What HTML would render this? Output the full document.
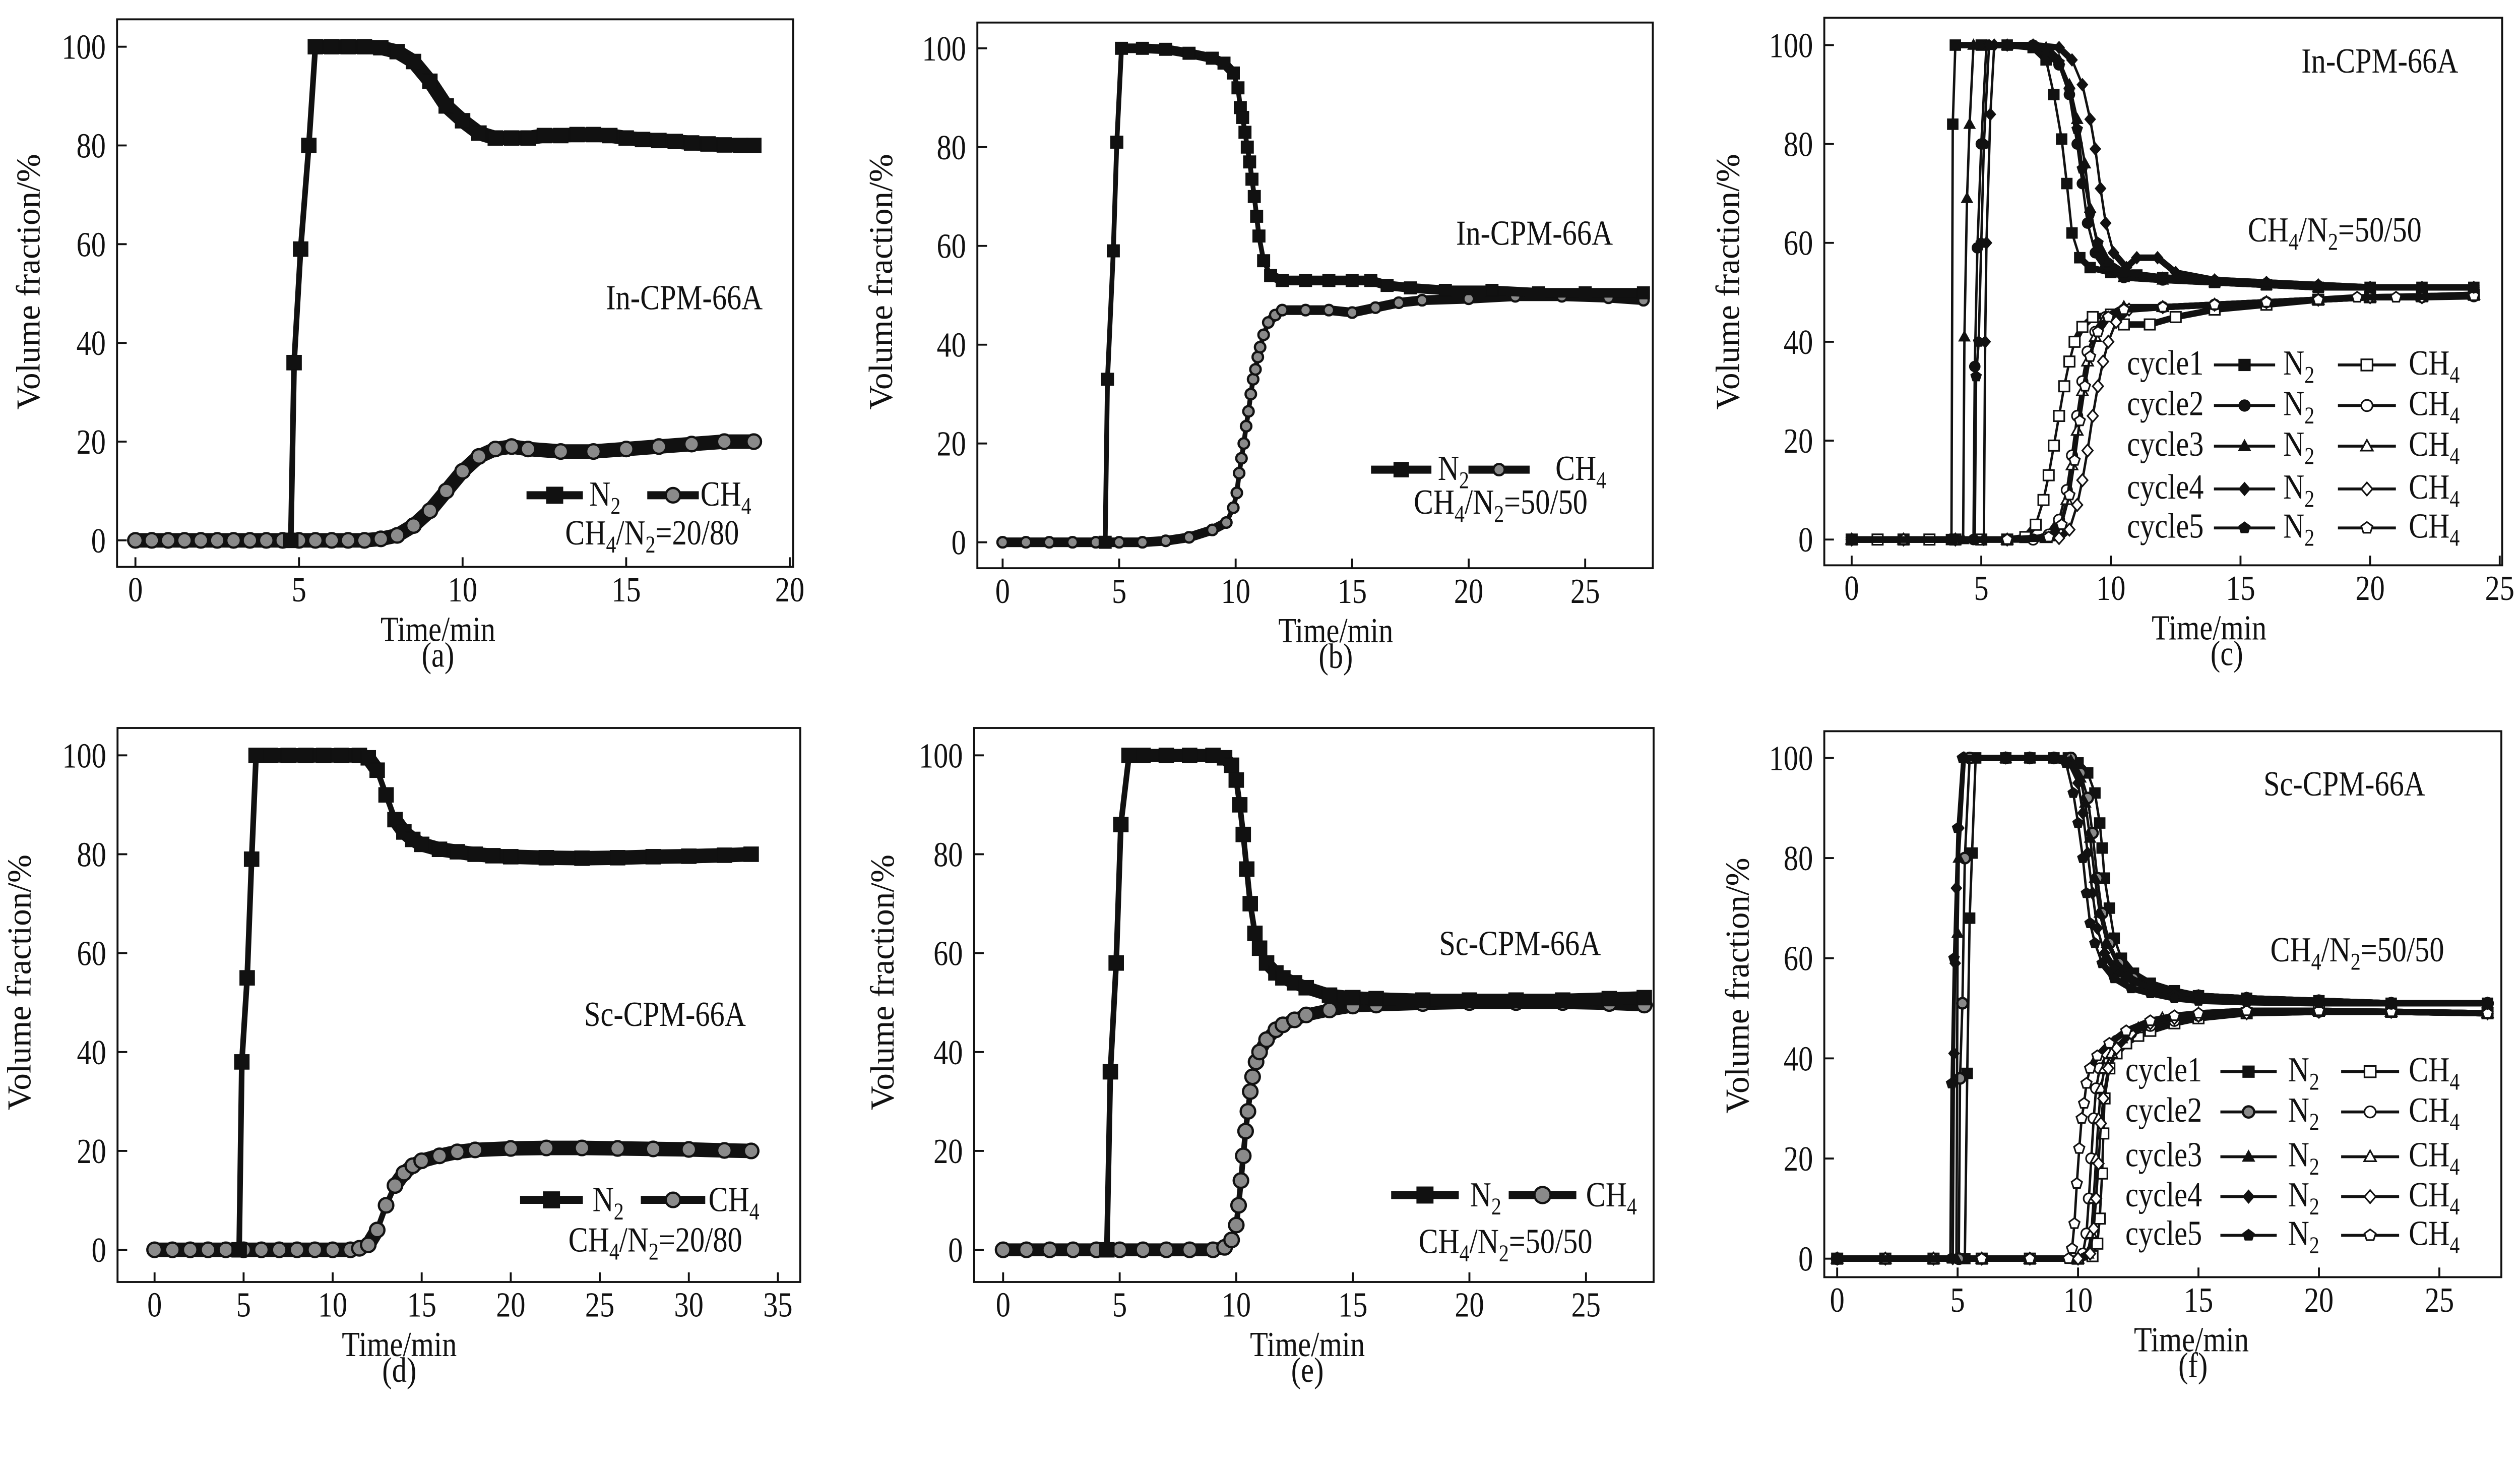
<!DOCTYPE html>
<html>
<head>
<meta charset="utf-8">
<style>
html,body{margin:0;padding:0;background:#fff;overflow:hidden;}
svg{display:block;}
text{font-family:"Liberation Serif","Times New Roman",serif;fill:#111;}
</style>
</head>
<body>
<svg id="fig" xmlns="http://www.w3.org/2000/svg" width="5201" height="2904" viewBox="0 0 1628 909">
<rect x="0" y="0" width="1628" height="909" fill="#fff"/>
</svg>
<script>
// ---------- data (time/min, volume fraction/%) ----------
const xTicksA = [0,5,10,15,20];
const xTicksB = [0,5,10,15,20,25];
const xTicksD = [0,5,10,15,20,25,30,35];
const yTicks = [0,20,40,60,80,100];

const aN2 = [[4.75,0],[4.85,36],[5.05,59],[5.3,80],[5.5,100],[6,100],[6.5,100],[7,100],[7.5,99.8],[8,99],[8.5,97],[9,93],[9.5,88],[10,85],[10.5,82.5],[11,81.5],[11.5,81.5],[12,81.5],[12.5,82],[13,82],[13.5,82.2],[14,82.2],[14.5,82],[15,81.5],[15.5,81.2],[16,81],[16.5,80.8],[17,80.5],[17.5,80.3],[18,80.1],[18.5,80],[18.9,80]];
const aCH4 = [[0,0],[0.5,0],[1,0],[1.5,0],[2,0],[2.5,0],[3,0],[3.5,0],[4,0],[4.5,0],[5,0],[5.5,0],[6,0],[6.5,0],[7,0],[7.5,0.3],[8,1],[8.5,3],[9,6],[9.5,10],[10,14],[10.5,17],[11,18.5],[11.5,19],[12,18.5],[13,18],[14,18],[15,18.5],[16,19],[17,19.5],[18,20],[18.9,20]];

const bN2 = [[4.4,0],[4.5,33],[4.75,59],[4.9,81],[5.1,100],[6,100],[7,99.8],[8,99],[9,98],[9.5,97],[9.9,95],[10.1,92],[10.2,88],[10.3,86],[10.4,83],[10.5,80],[10.6,77],[10.7,73.5],[10.8,70],[10.9,66],[11,62],[11.2,57],[11.5,54],[12,53],[13,53],[14,53],[15,53],[15.8,53],[16.5,52],[17.5,51.5],[19,51],[21,51],[23,50.5],[25,50.5],[27.5,50.5]];
const bCH4 = [[0,0],[1,0],[2,0],[3,0],[4,0],[5,0],[6,0],[7,0.3],[8,1],[9,2.5],[9.6,4],[9.9,7],[10.05,10],[10.15,14],[10.25,17],[10.35,20],[10.45,23.5],[10.55,26.5],[10.65,30],[10.75,33],[10.85,35],[10.95,37.5],[11.05,39.5],[11.2,42],[11.4,44.5],[11.7,46],[12,47],[13,47],[14,47],[15,46.5],[16,47.5],[17,48.5],[18,49],[20,49.3],[22,49.8],[24,49.8],[26,49.5],[27.5,49]];

const cN2c1 = [[0,0],[3.85,0],[3.9,84],[4.0,100],[5,100],[6,100],[7,99.5],[7.5,97],[7.8,90],[8.1,81],[8.3,72],[8.5,62],[8.8,57],[9.2,55],[10,54],[11,53.5],[12,53],[14,52],[16,51.5],[18,51],[20,51],[22,51],[24,51]];
const cN2c2 = [[0,0],[4.7,0],[4.75,35],[4.85,59],[5.0,80],[5.2,100],[6,100],[7,100],[7.5,99],[8,96],[8.4,90],[8.7,80],[8.9,72],[9.1,64],[9.4,58],[9.8,55],[10.5,53],[12,52.5],[14,52],[16,51.5],[18,51],[20,51],[22,51],[24,51]];
const cN2c3 = [[0,0],[4.3,0],[4.35,41],[4.45,69],[4.55,84],[4.7,100],[6,100],[7,100],[7.5,99.5],[8,97],[8.4,92],[8.7,85],[9.0,76],[9.2,67],[9.5,59],[9.9,55],[10.5,53],[12,52.5],[14,52],[16,51.5],[18,51],[20,51],[22,51],[24,51]];
const cN2c4 = [[0,0],[5.1,0],[5.15,40],[5.2,60],[5.35,86],[5.5,100],[6,100],[7,100],[8,99.5],[8.5,97],[8.9,92],[9.2,85],[9.4,79],[9.6,71],[9.8,64],[10.1,58],[10.6,55],[11,57],[11.8,57],[12.5,54],[14,52.5],[16,52],[18,51.5],[20,51],[22,51],[24,51]];
const cN2c5 = [[0,0],[4.75,0],[4.8,33],[4.9,40],[5.0,60],[5.1,80],[5.3,100],[6,100],[7,100],[7.5,99],[8,96.5],[8.4,91],[8.7,83],[8.9,75],[9.2,66],[9.5,60],[9.9,56],[10.5,54],[12,53],[14,52.5],[16,52],[18,51.5],[20,51],[22,51],[24,51]];
const cCH4c1 = [[0,0],[1,0],[2,0],[3,0],[4,0],[5,0],[6,0],[6.7,0.5],[7.1,3],[7.4,8],[7.6,13],[7.8,19],[8.0,25],[8.2,31],[8.4,36],[8.6,40],[8.9,43],[9.3,45],[10,45.5],[10.5,43.5],[11.5,43.5],[12.5,45],[14,46.5],[16,47.5],[18,48.5],[20,49],[22,49.2],[24,49.5]];
const cCH4c2 = [[0,0],[2,0],[4,0],[6,0],[7,0],[7.6,1],[8.0,4],[8.3,10],[8.5,17],[8.7,25],[8.9,32],[9.1,38],[9.4,42],[9.8,45],[10.5,46.5],[12,47],[14,47.5],[16,48],[18,48.5],[20,49],[22,49],[24,49.2]];
const cCH4c3 = [[0,0],[2,0],[4,0],[6,0],[7.5,0.3],[8.0,2],[8.3,8],[8.5,15],[8.7,22],[8.9,30],[9.1,36],[9.4,41],[9.8,45],[10.5,47],[12,47],[14,47.5],[16,48],[18,48.5],[20,49],[22,49.2],[24,49.5]];
const cCH4c4 = [[0,0],[2,0],[4,0],[6,0],[8,0.3],[8.4,2],[8.7,7],[8.9,12],[9.1,18],[9.3,25],[9.5,31],[9.7,36],[9.9,40],[10.2,44],[10.7,46.5],[12,47],[14,47.5],[16,48],[18,48.5],[20,49],[22,49],[24,49.5]];
const cCH4c5 = [[0,0],[2,0],[4,0],[6,0],[7.6,0.5],[8.1,3],[8.4,9],[8.6,16],[8.8,24],[9.0,31],[9.2,37],[9.5,42],[9.9,45],[10.5,46.5],[12,47],[14,47.5],[16,48],[18,48.5],[19.5,49],[21,49],[24,49.3]];

const dN2 = [[4.75,0],[4.9,38],[5.2,55],[5.45,79],[5.7,100],[6.5,100],[7.5,100],[8.5,100],[9.5,100],[10.5,100],[11.5,100],[12,99.5],[12.5,97],[13,92],[13.5,87],[14,84.5],[14.5,83],[15,82],[16,81],[17,80.5],[18,80],[19,79.7],[20,79.5],[22,79.3],[24,79.2],[26,79.3],[28,79.5],[30,79.6],[32,79.8],[33.5,80]];
const dCH4 = [[0,0],[1,0],[2,0],[3,0],[4,0],[5,0],[6,0],[7,0],[8,0],[9,0],[10,0],[11,0],[11.5,0.3],[12,1],[12.5,4],[13,9],[13.5,13],[14,15.5],[14.5,17],[15,18],[16,19],[17,19.8],[18,20.2],[20,20.5],[22,20.6],[24,20.6],[26,20.5],[28,20.4],[30,20.3],[32,20.1],[33.5,20]];

const eN2 = [[4.45,0],[4.6,36],[4.85,58],[5.05,86],[5.4,100],[6,100],[7,100],[8,100],[9,100],[9.5,99.5],[9.8,98],[10,95],[10.15,90],[10.3,84],[10.45,77],[10.6,70],[10.8,64],[11,61],[11.3,58],[11.7,56],[12,55],[12.5,54],[13,53],[14,51.5],[15,51],[16,50.8],[18,50.5],[20,50.5],[22,50.5],[24,50.5],[26,50.8],[27.5,51]];
const eCH4 = [[0,0],[1,0],[2,0],[3,0],[4,0],[5,0],[6,0],[7,0],[8,0],[9,0],[9.5,0.5],[9.8,2],[10,5],[10.1,9],[10.2,14],[10.3,19],[10.4,24],[10.5,28],[10.6,32],[10.7,35],[10.85,38],[11,40],[11.3,42.5],[11.7,44.5],[12,45.5],[12.5,46.5],[13,47.5],[14,48.5],[15,49.3],[16,49.5],[18,49.8],[20,50],[22,50],[24,50],[26,49.8],[27.5,49.5]];

const fN2c1 = [[0,0],[5.3,0],[5.4,37],[5.5,68],[5.6,81],[5.75,100],[7,100],[8,100],[9,100],[9.6,100],[10,99],[10.4,97],[10.7,93],[10.9,87],[11.0,82],[11.1,76],[11.3,70],[11.5,64],[11.8,60],[12.3,57],[13,55],[14,53.5],[15,52.5],[17,52],[20,51.5],[23,51],[27,51]];
const fN2c2 = [[0,0],[5.05,0],[5.1,36],[5.2,51],[5.3,80],[5.5,100],[7,100],[8,100],[9,100],[9.7,100],[10.1,97],[10.4,92],[10.6,85],[10.8,76],[11.0,69],[11.3,63],[11.7,59],[12.3,56],[13,54],[14,53],[15,52.5],[17,52],[20,51.5],[23,51],[27,51]];
const fN2c3 = [[0,0],[4.95,0],[5.0,65],[5.05,80],[5.3,100],[7,100],[8,100],[9,100],[9.7,99.5],[10.1,96],[10.3,91],[10.5,84],[10.7,76],[10.9,69],[11.2,63],[11.6,59],[12.2,56],[13,54],[14,53],[15,52.5],[17,52],[20,51.5],[23,51],[27,51]];
const fN2c4 = [[0,0],[4.8,0],[4.85,41],[4.9,59],[4.95,74],[5.05,86],[5.25,100],[7,100],[8,100],[9,100],[9.6,99],[10.0,95],[10.2,89],[10.4,81],[10.6,73],[10.8,66],[11.1,61],[11.5,58],[12,56],[13,54],[14,53],[15,52.5],[17,52],[20,51.5],[23,51],[27,51]];
const fN2c5 = [[0,0],[4.7,0],[4.75,35],[4.85,60],[5.0,86],[5.2,100],[7,100],[8,100],[9,100],[9.5,99],[9.8,93],[10.0,87],[10.2,80],[10.35,73],[10.5,67],[10.7,63],[11.0,59],[11.5,56],[12.2,54],[13,53],[14,52],[15,51.5],[17,51.2],[20,51],[23,51],[27,51]];
const fCH4c1 = [[0,0],[2,0],[4,0],[6,0],[8,0],[10,0],[10.6,0.5],[10.8,3],[10.9,8],[11.0,17],[11.05,25],[11.1,32],[11.3,38],[11.6,41],[12,43],[12.5,44.5],[13,45.5],[14,47],[15,48],[17,49],[20,49.5],[23,49.3],[27,49]];
const fCH4c2 = [[0,0],[2,0],[4,0],[6,0],[8,0],[9.8,0],[10.2,1],[10.35,5],[10.45,12],[10.55,20],[10.65,28],[10.75,34],[10.9,38],[11.2,41],[11.6,43.5],[12.2,45],[13,46.5],[14,47.5],[15,48.5],[17,49],[20,49.3],[23,49.3],[27,49]];
const fCH4c3 = [[0,0],[2,0],[4,0],[6,0],[8,0],[10,0],[10.4,1],[10.55,5],[10.65,12],[10.75,20],[10.85,28],[10.95,34],[11.1,38],[11.4,41],[11.8,44],[12.5,46],[13.5,48],[15,49],[17,49.5],[20,49.5],[23,49.3],[27,49]];
const fCH4c4 = [[0,0],[2,0],[4,0],[6,0],[8,0],[10,0],[10.5,1],[10.65,6],[10.75,12],[10.85,19],[10.95,27],[11.05,32],[11.25,38],[11.6,42],[12.2,45],[13,47],[14,48],[15,48.5],[17,49],[20,49.3],[23,49.3],[27,49]];
const fCH4c5 = [[0,0],[2,0],[4,0],[6,0],[8,0],[9.6,0],[9.75,2],[9.85,7],[9.95,15],[10.05,22],[10.15,28],[10.25,31],[10.35,35],[10.5,38],[10.8,40.5],[11.3,43],[12,45.5],[13,47.5],[14,48.5],[15,49],[17,49.5],[20,49.5],[23,49.3],[27,49]];

// ---------- drawing ----------
const NS = "http://www.w3.org/2000/svg";
const svg = document.getElementById('fig');
function mk(tag, attrs, parent){
  const e = document.createElementNS(NS, tag);
  for (const k in attrs) e.setAttribute(k, attrs[k]);
  (parent||svg).appendChild(e);
  return e;
}
function txt(parent, x, y, html, anchor, size, name){
  const t = mk('text', {transform:'translate('+x+','+y+') scale(0.83,1)', 'text-anchor':anchor||'start', 'font-size':size||22}, parent);
  t.innerHTML = html;
  
  
  return t;
}
const SUB2 = '<tspan baseline-shift="-35%" font-size="15">2</tspan>';
const SUB4 = '<tspan baseline-shift="-35%" font-size="15">4</tspan>';

function marker(g, kind, cx, cy, s){
  let e;
  const h = s/2;
  const open = kind.startsWith('o');
  const k = kind.replace(/^o/,'');
  const fill = open ? '#fff' : '#111';
  const sw = open ? 1 : 0.6;
  if (k==='sq') e = mk('rect',{x:cx-h,y:cy-h,width:s,height:s,fill:fill,stroke:'#111','stroke-width':sw},g);
  else if (k==='ci') e = mk('circle',{cx:cx,cy:cy,r:h,fill:fill,stroke:'#111','stroke-width':sw},g);
  else if (k==='ball') e = mk('circle',{cx:cx,cy:cy,r:h,fill:'#8a8a8a',stroke:'#111','stroke-width':1.4},g);
  else if (k==='tri') e = mk('polygon',{points:(cx)+','+(cy-h*1.1)+' '+(cx-h*1.05)+','+(cy+h*0.8)+' '+(cx+h*1.05)+','+(cy+h*0.8),fill:fill,stroke:'#111','stroke-width':sw},g);
  else if (k==='dia') e = mk('polygon',{points:cx+','+(cy-h*1.15)+' '+(cx+h)+','+cy+' '+cx+','+(cy+h*1.15)+' '+(cx-h)+','+cy,fill:fill,stroke:'#111','stroke-width':sw},g);
  else {
    let p=[]; for(let i=0;i<5;i++){const a=-Math.PI/2+i*2*Math.PI/5; p.push((cx+h*1.05*Math.cos(a))+','+(cy+h*1.05*Math.sin(a)));}
    e = mk('polygon',{points:p.join(' '),fill:fill,stroke:'#111','stroke-width':sw},g);
  }
  
  
}

function makePanel(id, cfg){
  const g = mk('g', {});
  
  
  const sx = v => cfg.x0 + v * cfg.per5 / 5;
  const sy = v => cfg.y0 - v * (cfg.y0 - cfg.y100) / 100;
  const fr = mk('rect',{x:cfg.L,y:cfg.T,width:cfg.R-cfg.L,height:cfg.B-cfg.T,fill:'none',stroke:'#111','stroke-width':1.2},g);
  
  
  cfg.xt.forEach(v=>{
    const t = mk('line',{x1:sx(v),x2:sx(v),y1:cfg.B,y2:cfg.B-6,stroke:'#111','stroke-width':1.2},g);
    
    
    txt(g, sx(v), cfg.B+21.5, String(v), 'middle', 22, 'x-tick-label');
  });
  yTicks.forEach(v=>{
    const t = mk('line',{x1:cfg.L,x2:cfg.L+6,y1:sy(v),y2:sy(v),stroke:'#111','stroke-width':1.2},g);
    
    
    txt(g, cfg.L-7, sy(v)+7.5, String(v), 'end', 22, 'y-tick-label');
  });
  const yt = txt(g, 0, 0, 'Volume fraction/%', 'middle', 21, 'y-axis-title');
  yt.setAttribute('transform','translate('+cfg.ytx+','+cfg.yty+') rotate(-90)');
  txt(g, cfg.xtx, cfg.B+46, 'Time/min', 'middle', 22, 'x-axis-title');
  txt(g, cfg.ltx, cfg.B+62, '('+id+')', 'middle', 22, 'panel-label');
  return {g, sx, sy};
}

function drawSeries(P, data, kind, msize, thick, thin, name, every){
  const g = mk('g', {}, P.g);
  
  
  for (let i=1;i<data.length;i++){
    const x1=P.sx(data[i-1][0]), y1=P.sy(data[i-1][1]), x2=P.sx(data[i][0]), y2=P.sy(data[i][1]);
    const steep = Math.abs(y2-y1) > 2*Math.abs(x2-x1);
    const l = mk('line',{x1:x1,y1:y1,x2:x2,y2:y2,stroke:'#111','stroke-width':steep?thin:thick,'stroke-linecap':'round'},g);
    
    
  }
  data.forEach((d,i)=>{ if(!every || i%every===0 || d[1]>1) marker(g, kind, P.sx(d[0]), P.sy(d[1]), msize); });
}

function legendEntry(parent, x1, x2, y, kind, msize, lw, name){
  const l = mk('line',{x1:x1,x2:x2,y1:y,y2:y,stroke:'#111','stroke-width':lw},parent);
  
  
  const g = mk('g',{},parent);
  
  
  marker(g, kind, (x1+x2)/2, y, msize);
}

// ---- panel a ----
const PA = makePanel('a',{L:72.7,R:492.6,T:12,B:352,x0:84.1,per5:101.6,y0:335.5,y100:29,xt:xTicksA,ytx:24.5,yty:175,xtx:272,ltx:272});
drawSeries(PA, aCH4, 'ball', 9, 9, 3.5, 'ch4-series');
drawSeries(PA, aN2, 'sq', 9, 9, 3.5, 'n2-series');
txt(PA.g, 425, 192, 'In-CPM-66A', 'middle', 22, 'sample-label');
legendEntry(PA.g, 327, 362, 307.5, 'sq', 10, 5, 'legend-n2');
txt(PA.g, 366, 314, 'N'+SUB2, 'start', 22, 'legend-n2-label');
legendEntry(PA.g, 402, 434, 307.5, 'ball', 9, 5, 'legend-ch4');
txt(PA.g, 435, 314, 'CH'+SUB4, 'start', 22, 'legend-ch4-label');
txt(PA.g, 405, 338, 'CH'+SUB4+'/N'+SUB2+'=20/80', 'middle', 22, 'gas-ratio-label');

// ---- panel b ----
const PB = makePanel('b',{L:607,R:1026.5,T:14,B:352.8,x0:622.7,per5:72.36,y0:336.7,y100:30,xt:xTicksB,ytx:554,yty:175,xtx:829.6,ltx:829.6});
drawSeries(PB, bCH4, 'ball', 6.5, 6, 3, 'ch4-series');
drawSeries(PB, bN2, 'sq', 7.5, 6, 3, 'n2-series');
txt(PB.g, 953, 152, 'In-CPM-66A', 'middle', 22, 'sample-label');
legendEntry(PB.g, 851.5, 889, 291.6, 'sq', 9, 5, 'legend-n2');
txt(PB.g, 893, 298, 'N'+SUB2, 'start', 22, 'legend-n2-label');
legendEntry(PB.g, 912, 950, 291.6, 'ball', 7, 5, 'legend-ch4');
txt(PB.g, 966, 298, 'CH'+SUB4, 'start', 22, 'legend-ch4-label');
txt(PB.g, 932, 319, 'CH'+SUB4+'/N'+SUB2+'=50/50', 'middle', 22, 'gas-ratio-label');

// ---- panel c ----
const PC = makePanel('c',{L:1133,R:1554,T:11,B:351,x0:1150,per5:80.5,y0:335,y100:28,xt:xTicksB,ytx:1080,yty:175,xtx:1372,ltx:1383});
const cN2 = [cN2c1,cN2c2,cN2c3,cN2c4,cN2c5];
const cCH4 = [cCH4c1,cCH4c2,cCH4c3,cCH4c4,cCH4c5];
const kindsN2 = ['sq','ci','tri','dia','pen'];
const kindsC1 = ['osq','oci','otri','odia','open'];
cCH4.forEach((s,i)=>drawSeries(PC, s, kindsC1[i], 6.5, 4, 1.5, 'ch4-cycle'+(i+1)));
cN2.forEach((s,i)=>drawSeries(PC, s, kindsN2[i], 6.5, 4, 1.5, 'n2-cycle'+(i+1)));
txt(PC.g, 1478, 45, 'In-CPM-66A', 'middle', 22, 'sample-label');
txt(PC.g, 1450, 150, 'CH'+SUB4+'/N'+SUB2+'=50/50', 'middle', 22, 'gas-ratio-label');
[226.6,251.8,277,303.6,327.8].forEach((y,i)=>{
  const lg = mk('g',{},PC.g);
  
  
  txt(lg, 1321, y+6, 'cycle'+(i+1), 'start', 22, 'legend-cycle-label');
  legendEntry(lg, 1375, 1413, y, kindsN2[i], 7, 1.8, 'legend-n2');
  txt(lg, 1418, y+6, 'N'+SUB2, 'start', 22, 'legend-n2-label');
  legendEntry(lg, 1452, 1488, y, kindsC1[i], 7, 1.8, 'legend-ch4');
  txt(lg, 1496, y+6, 'CH'+SUB4, 'start', 22, 'legend-ch4-label');
});

// ---- panel d ----
const PD = makePanel('d',{L:73,R:497,T:452,B:796,x0:96,per5:55.3,y0:776,y100:469,xt:xTicksD,ytx:19,yty:610,xtx:248,ltx:248});
drawSeries(PD, dCH4, 'ball', 9, 9, 3.5, 'ch4-series');
drawSeries(PD, dN2, 'sq', 9, 9, 3.5, 'n2-series');
txt(PD.g, 413, 637, 'Sc-CPM-66A', 'middle', 22, 'sample-label');
legendEntry(PD.g, 323, 362, 745, 'sq', 10, 5, 'legend-n2');
txt(PD.g, 368, 752, 'N'+SUB2, 'start', 22, 'legend-n2-label');
legendEntry(PD.g, 398, 438, 745, 'ball', 9, 5, 'legend-ch4');
txt(PD.g, 440, 752, 'CH'+SUB4, 'start', 22, 'legend-ch4-label');
txt(PD.g, 407, 777, 'CH'+SUB4+'/N'+SUB2+'=20/80', 'middle', 22, 'gas-ratio-label');

// ---- panel e ----
const PE = makePanel('e',{L:605,R:1027,T:452,B:796,x0:623,per5:72.4,y0:776,y100:469,xt:xTicksB,ytx:555,yty:610,xtx:812,ltx:812});
drawSeries(PE, eCH4, 'ball', 9, 8, 3.5, 'ch4-series');
drawSeries(PE, eN2, 'sq', 9, 8, 3.5, 'n2-series');
txt(PE.g, 944, 593, 'Sc-CPM-66A', 'middle', 22, 'sample-label');
legendEntry(PE.g, 864, 906, 742, 'sq', 10, 5, 'legend-n2');
txt(PE.g, 913, 749, 'N'+SUB2, 'start', 22, 'legend-n2-label');
legendEntry(PE.g, 937, 979, 742, 'ball', 10, 5, 'legend-ch4');
txt(PE.g, 985, 749, 'CH'+SUB4, 'start', 22, 'legend-ch4-label');
txt(PE.g, 935, 778, 'CH'+SUB4+'/N'+SUB2+'=50/50', 'middle', 22, 'gas-ratio-label');

// ---- panel f ----
const PF = makePanel('f',{L:1133,R:1553.5,T:454,B:793,x0:1141,per5:74.8,y0:781.5,y100:470.6,xt:xTicksB,ytx:1086,yty:612,xtx:1361,ltx:1362});
const fN2 = [fN2c1,fN2c2,fN2c3,fN2c4,fN2c5];
const fCH4 = [fCH4c1,fCH4c2,fCH4c3,fCH4c4,fCH4c5];
const kindsN2f = ['sq','ball','tri','dia','pen'];
fCH4.forEach((s,i)=>drawSeries(PF, s, kindsC1[i], 6.5, 4, 1.5, 'ch4-cycle'+(i+1)));
fN2.forEach((s,i)=>drawSeries(PF, s, kindsN2f[i], 6.5, 4, 1.5, 'n2-cycle'+(i+1)));
txt(PF.g, 1456, 494, 'Sc-CPM-66A', 'middle', 22, 'sample-label');
txt(PF.g, 1464, 597, 'CH'+SUB4+'/N'+SUB2+'=50/50', 'middle', 22, 'gas-ratio-label');
[665.4,690.4,718.2,743,767].forEach((y,i)=>{
  const lg = mk('g',{},PF.g);
  
  
  txt(lg, 1320, y+6, 'cycle'+(i+1), 'start', 22, 'legend-cycle-label');
  legendEntry(lg, 1379, 1414, y, kindsN2f[i], 7, 1.8, 'legend-n2');
  txt(lg, 1421, y+6, 'N'+SUB2, 'start', 22, 'legend-n2-label');
  legendEntry(lg, 1454, 1490, y, kindsC1[i], 7, 1.8, 'legend-ch4');
  txt(lg, 1496, y+6, 'CH'+SUB4, 'start', 22, 'legend-ch4-label');
});
</script>
</body>
</html>
